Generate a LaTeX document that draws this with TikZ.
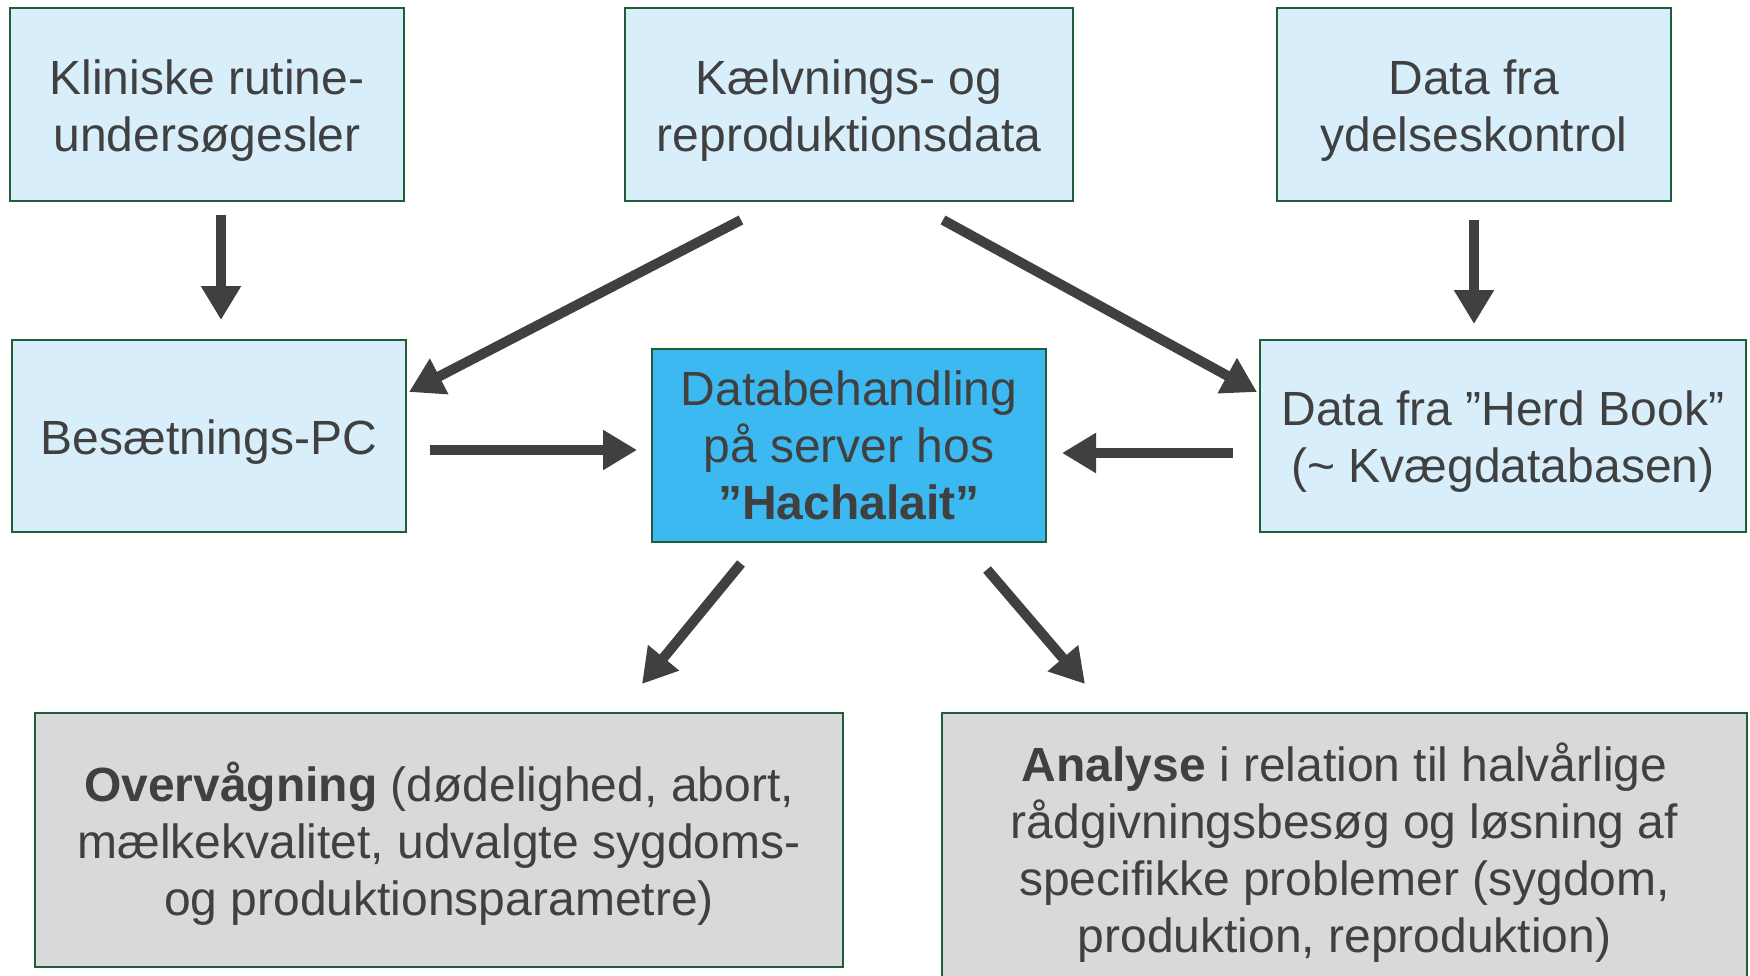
\documentclass[tikz,border=0pt]{standalone}
\usepackage{fontspec}
\setmainfont{Liberation Sans}
\usetikzlibrary{arrows.meta,calc}
\definecolor{txt}{HTML}{404040}
\definecolor{bord}{HTML}{1F5E38}
\definecolor{lblue}{HTML}{D8EFFB}
\definecolor{cblue}{HTML}{3DB9F2}
\definecolor{lgray}{HTML}{D9D9D9}
\definecolor{arrc}{HTML}{404040}
\newcommand{\lowstrut}{\rule{0pt}{46pt}}
\begin{document}
\begin{tikzpicture}[x=1pt,y=-1pt,
  box/.style={draw=bord,line width=2pt,fill=lblue,text=txt,align=center,inner sep=0pt,
    font=\fontsize{48}{57}\selectfont},
  cbox/.style={box,fill=cblue},
  gbox/.style={box,fill=lgray},
  arr/.style={draw=arrc,line width=10pt,-{Triangle[length=34pt,width=38pt]}}]
\useasboundingbox (0,0) rectangle (1750,976);
\fill[white] (0,0) rectangle (1750,976);
\node[box,minimum width=394pt,minimum height=193pt] (k) at (207,104.5) {\lowstrut Kliniske rutine-\\undersøgesler};
\node[box,minimum width=448pt,minimum height=193pt] (kr) at (849,104.5) {\lowstrut Kælvnings- og\\reproduktionsdata};
\node[box,minimum width=394pt,minimum height=193pt] (y) at (1474,104.5) {\lowstrut Data fra\\ydelseskontrol};
\node[box,minimum width=394pt,minimum height=192pt] (b) at (209,436) {\lowstrut Besætnings-PC};
\node[cbox,minimum width=394pt,minimum height=193pt] (c) at (849,445) {Databehandling\\på server hos\\\textbf{”Hachalait”}};
\node[box,minimum width=486pt,minimum height=192pt] (h) at (1503,436) {\lowstrut Data fra ”Herd Book”\\(\textasciitilde{} Kvægdatabasen)};
\node[gbox,minimum width=808pt,minimum height=254pt] (o) at (439,840) {\lowstrut\textbf{Overvågning} (dødelighed, abort,\\mælkekvalitet, udvalgte sygdoms-\\og produktionsparametre)};
\node[gbox,minimum width=805pt,minimum height=272pt] (a) at (1344.5,849) {\lowstrut\textbf{Analyse} i relation til halvårlige\\rådgivningsbesøg og løsning af\\specifikke problemer (sygdom,\\produktion, reproduktion)};
\draw[arr] ($(k.south)+(14,13)$) -- ($(b.north)+(12,-19)$);
\draw[arr] ($(kr.south)+(-108,18)$) -- ($(b.north east)+(2,53)$);
\draw[arr] ($(kr.south)+(94,18)$) -- ($(h.north west)+(-2,53)$);
\draw[arr] ($(y.south)+(0,18)$) -- ($(h.north)+(-29,-15)$);
\draw[arr] ($(b.east)+(23,14)$) -- ($(c.west)+(-14,5)$);
\draw[arr] ($(h.west)+(-26,17)$) -- ($(c.east)+(15,8)$);
\draw[arr] ($(c.south)+(-108,21)$) -- ($(o.north)+(203,-28)$);
\draw[arr] ($(c.south)+(138,27)$) -- ($(a.north)+(-259.5,-28)$);
\end{tikzpicture}
\end{document}
